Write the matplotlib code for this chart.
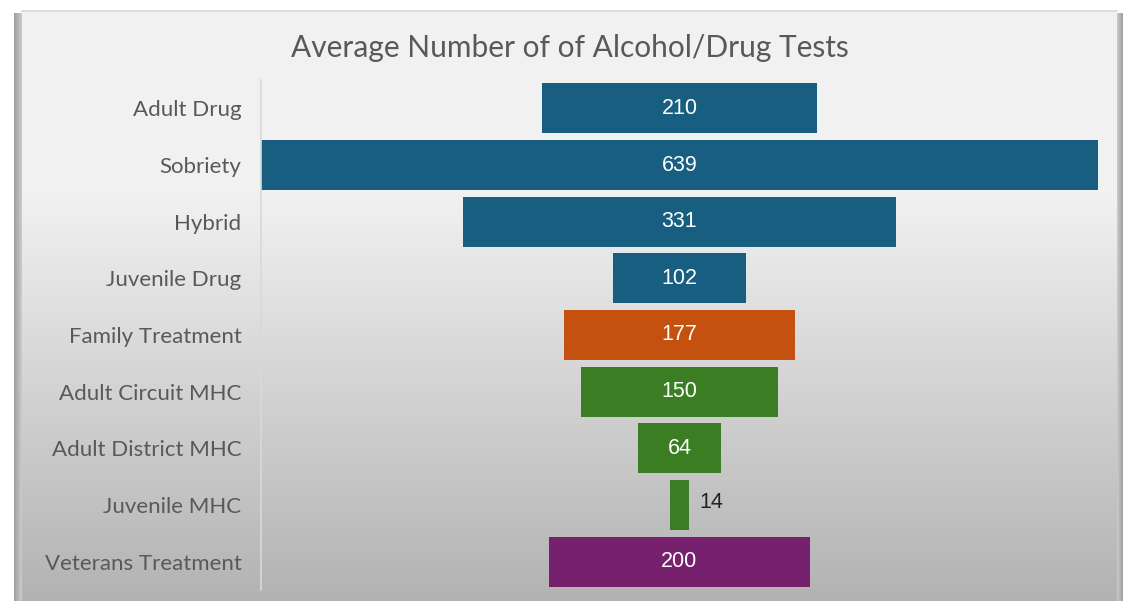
import matplotlib
matplotlib.use("Agg")
import matplotlib.pyplot as plt
import numpy as np

categories = ["Adult Drug", "Sobriety", "Hybrid", "Juvenile Drug", "Family Treatment",
              "Adult Circuit MHC", "Adult District MHC", "Juvenile MHC", "Veterans Treatment"]
values = [210, 639, 331, 102, 177, 150, 64, 14, 200]
colors = ["#175e80", "#175e80", "#175e80", "#175e80", "#c4510f",
          "#3b7d23", "#3b7d23", "#3b7d23", "#77206d"]
title = "Average Number of of Alcohol/Drug Tests"

W, H = 1123, 601
fig = plt.figure(figsize=(W / 100, H / 100), dpi=100)
fig.patch.set_facecolor("white")

# background panel with vertical gradient
bg = fig.add_axes([22 / W, 0, (1117 - 22) / W, (601 - 11) / H])
bg.set_axis_off()
ys = np.linspace(0, 1, 300)  # 0 top, 1 bottom
top_c, bot_c = 0.949, 0.70
start = 0.30
vals = np.where(ys < start, top_c, top_c + (bot_c - top_c) * (ys - start) / (1 - start))
grad = np.repeat(vals[:, None], 2, axis=1)
bg.imshow(np.dstack([grad, grad, grad]), aspect="auto", extent=[0, 1, 0, 1], origin="upper")
bg.set_xlim(0, 1)
bg.set_ylim(0, 1)
bg.plot([0, 1], [1, 1], color="#d9d9d9", lw=1.2, transform=bg.transAxes, clip_on=False)

# side shadows
for x0, w in [(14, 8), (1117, 6)]:
    sh = fig.add_axes([x0 / W, 0, w / W, (601 - 13) / H])
    sh.set_axis_off()
    g = np.linspace(0.80, 0.62, 50)
    if x0 < 100:
        g = g[::-1]
    sh.imshow(np.tile(g, (10, 1))[..., None].repeat(3, axis=2), aspect="auto", extent=[0, 1, 0, 1])

ax = fig.add_axes([261 / W, 11 / H, (1098 - 261) / W, (590 - 80) / H])
ax.patch.set_alpha(0)
n = len(categories)
y = np.arange(n)
vmax = max(values)
lefts = [-v / 2 for v in values]
ax.barh(y, values, left=lefts, height=0.88, color=colors, edgecolor="none")
ax.set_xlim(-vmax / 2, vmax / 2)
ax.set_ylim(n - 0.5, -0.5)
ax.set_yticks(y)
ax.set_yticklabels(categories, fontsize=16, color="#595959", family=["Lato", "DejaVu Sans"])
ax.tick_params(axis="y", length=0, pad=14)
ax.set_xticks([])
for s in ["top", "right", "bottom"]:
    ax.spines[s].set_visible(False)
ax.spines["left"].set_color("#d9d9d9")
ax.spines["left"].set_linewidth(1.2)

for yi, v in zip(y, values):
    if v < 40:
        ax.text(v / 2 + 8, yi - 0.05, str(v), ha="left", va="center", color="#222222",
                fontsize=15.5, family="Liberation Sans")
    else:
        ax.text(0, yi, str(v), ha="center", va="center", color="white",
                fontsize=15.5, family="Liberation Sans")

fig.text(570 / W, 1 - 48 / H, title, ha="center", va="center", fontsize=21.5,
         color="#595959", family=["Lato", "DejaVu Sans"])

fig.savefig("out.png", dpi=100)
